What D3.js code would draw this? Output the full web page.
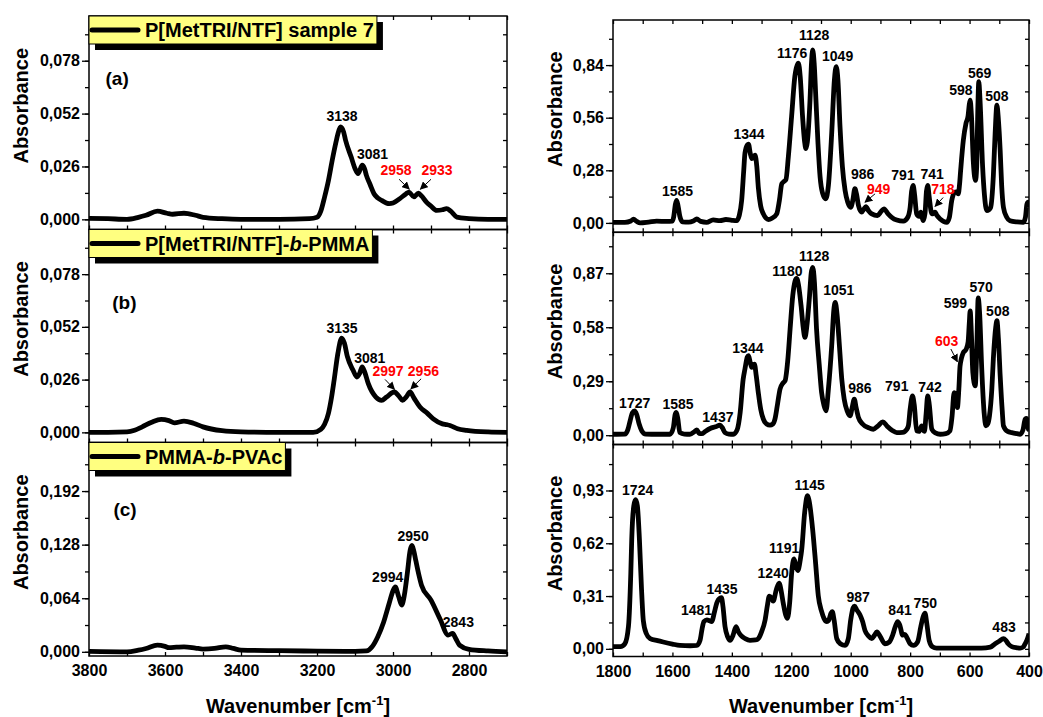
<!DOCTYPE html>
<html>
<head>
<meta charset="utf-8">
<script src="https://cdn.jsdelivr.net/npm/d3@7"></script>
<style>
  body { margin: 0; background: #fff; }
  svg { display: block; font-family: "Liberation Sans", Arial, sans-serif; font-weight: bold; }
</style>
</head>
<body>
<svg width="1043" height="717"></svg>
<script>
/*
    FTIR spectra of the three polymers, high (left) and low (right) wavenumber ranges.
*/

// Spectra: [wavenumber, absorbance]
let specA = [[3800,0.0005],[3750,0.0003],[3700,0],[3670,0.001],[3650,0.002],[3620,0.004],[3595,0.003],[3580,0.0025],[3550,0.003],[3520,0.002],[3500,0.001],[3450,0.0003],[3400,0],[3300,0],[3220,0.0003],[3200,0.001],[3190,0.004],[3180,0.011],[3170,0.019],[3160,0.029],[3150,0.038],[3145,0.042],[3138,0.0454],[3130,0.043],[3125,0.039],[3110,0.0306],[3100,0.025],[3092,0.0225],[3081,0.0266],[3075,0.025],[3070,0.0216],[3060,0.017],[3050,0.0126],[3040,0.0105],[3030,0.0093],[3010,0.0077],[3000,0.008],[2982,0.0102],[2966,0.0125],[2958,0.0134],[2945,0.011],[2933,0.0129],[2925,0.0115],[2912,0.0085],[2900,0.0065],[2885,0.0044],[2870,0.0047],[2859,0.0053],[2848,0.004],[2832,0.0011],[2800,0.0004],[2750,0],[2700,0]];

let specB = [[3800,0],[3750,0],[3700,0.0002],[3680,0.001],[3660,0.0027],[3635,0.005],[3610,0.0064],[3590,0.0058],[3575,0.0047],[3550,0.0055],[3525,0.0045],[3500,0.0027],[3450,0.0008],[3400,0.0002],[3300,0],[3210,0],[3190,0.0015],[3180,0.004],[3170,0.0093],[3162,0.017],[3155,0.0257],[3145,0.039],[3135,0.0464],[3128,0.044],[3120,0.0373],[3105,0.0306],[3095,0.0273],[3088,0.029],[3081,0.0323],[3075,0.03],[3065,0.024],[3045,0.0174],[3030,0.0158],[3017,0.0174],[2997,0.0199],[2985,0.018],[2975,0.0158],[2965,0.0175],[2955,0.0199],[2945,0.017],[2929,0.0125],[2910,0.0095],[2894,0.0067],[2870,0.0042],[2859,0.0038],[2850,0.0034],[2830,0.0018],[2806,0.001],[2750,0.0002],[2700,0]];

let specC = [[3800,0.0005],[3700,0],[3670,0.002],[3650,0.004],[3620,0.008],[3600,0.0065],[3590,0.005],[3570,0.0055],[3550,0.006],[3520,0.0045],[3500,0.0033],[3470,0.004],[3440,0.006],[3420,0.004],[3400,0.002],[3300,0.0013],[3200,0.0008],[3100,0.0005],[3070,0.001],[3055,0.006],[3040,0.018],[3025,0.035],[3010,0.058],[3000,0.073],[2994,0.0776],[2985,0.0657],[2977,0.0558],[2970,0.068],[2962,0.095],[2955,0.121],[2950,0.127],[2945,0.12],[2940,0.109],[2932,0.092],[2925,0.0796],[2900,0.0617],[2875,0.038],[2855,0.02],[2843,0.022],[2835,0.016],[2825,0.008],[2800,0.003],[2750,0.001],[2700,0]];

let specD = [[1800,0.003],[1760,0.003],[1740,0.01],[1731,0.02],[1720,0.008],[1709,0],[1680,0.004],[1653,0.009],[1620,0.008],[1600,0.01],[1596,0.03],[1590,0.1],[1586,0.12],[1581,0.09],[1575,0.035],[1566,0.006],[1545,0.004],[1530,0.01],[1518,0.021],[1505,0.008],[1485,0.003],[1463,0.016],[1440,0.012],[1420,0.018],[1400,0.014],[1384,0.012],[1375,0.04],[1367,0.12],[1360,0.28],[1356,0.37],[1348,0.415],[1344,0.419],[1338,0.37],[1333,0.342],[1327,0.352],[1322,0.36],[1316,0.3],[1311,0.19],[1303,0.09],[1294,0.048],[1285,0.025],[1277,0.018],[1265,0.025],[1249,0.048],[1240,0.12],[1232,0.208],[1225,0.22],[1218,0.23],[1210,0.35],[1199,0.565],[1188,0.78],[1180,0.84],[1176,0.85],[1170,0.78],[1162,0.565],[1155,0.43],[1151,0.396],[1146,0.43],[1137,0.654],[1132,0.85],[1128,0.921],[1123,0.85],[1117,0.654],[1110,0.42],[1103,0.244],[1095,0.16],[1084,0.128],[1075,0.2],[1064,0.476],[1055,0.76],[1049,0.832],[1043,0.76],[1036,0.512],[1028,0.3],[1019,0.173],[1010,0.11],[1000,0.083],[993,0.12],[986,0.182],[980,0.15],[974,0.093],[963,0.057],[955,0.075],[949,0.087],[940,0.065],[929,0.048],[910,0.039],[898,0.06],[888,0.075],[875,0.05],[862,0.03],[845,0.015],[823,0.009],[808,0.03],[800,0.083],[795,0.17],[790,0.2],[785,0.15],[778,0.048],[770,0.035],[764,0.057],[760,0.03],[756,0.012],[750,0.05],[745,0.17],[741,0.2],[736,0.14],[727,0.048],[722,0.05],[716,0.057],[710,0.04],[699,0.021],[677,0.003],[668,0.03],[660,0.119],[655,0.15],[649,0.164],[644,0.165],[638,0.155],[634,0.2],[630,0.28],[621,0.44],[612,0.53],[605,0.57],[601,0.63],[598,0.654],[594,0.58],[587,0.315],[580,0.226],[576,0.3],[572,0.62],[569,0.752],[565,0.66],[556,0.297],[550,0.15],[542,0.066],[535,0.07],[529,0.083],[520,0.25],[514,0.476],[508,0.627],[503,0.55],[497,0.386],[492,0.2],[486,0.083],[475,0.03],[464,0.012],[440,0.005],[419,0.003],[412,0.03],[407,0.1],[403,0.11],[400,0.083]];

let specE = [[1800,0.005],[1760,0.006],[1750,0.03],[1742,0.08],[1735,0.12],[1727,0.131],[1720,0.11],[1712,0.06],[1703,0.023],[1690,0.006],[1650,0.005],[1608,0.005],[1597,0.04],[1591,0.11],[1587,0.122],[1582,0.09],[1575,0.014],[1560,0.006],[1541,0.005],[1525,0.02],[1518,0.028],[1510,0.01],[1501,0.008],[1490,0.02],[1473,0.036],[1455,0.045],[1440,0.054],[1432,0.04],[1423,0.014],[1410,0.006],[1395,0.005],[1382,0.03],[1372,0.122],[1362,0.3],[1356,0.355],[1348,0.42],[1344,0.427],[1338,0.39],[1333,0.364],[1329,0.375],[1324,0.382],[1318,0.32],[1311,0.229],[1303,0.14],[1294,0.086],[1283,0.06],[1272,0.054],[1262,0.06],[1255,0.086],[1246,0.17],[1238,0.247],[1228,0.28],[1221,0.292],[1212,0.4],[1204,0.57],[1195,0.75],[1187,0.83],[1182,0.843],[1176,0.81],[1167,0.695],[1160,0.58],[1154,0.525],[1148,0.58],[1139,0.74],[1133,0.87],[1128,0.902],[1122,0.82],[1115,0.57],[1106,0.38],[1098,0.229],[1090,0.16],[1083,0.131],[1075,0.25],[1064,0.48],[1057,0.67],[1052,0.714],[1046,0.65],[1038,0.48],[1030,0.3],[1022,0.194],[1012,0.13],[1002,0.104],[995,0.15],[988,0.194],[982,0.15],[974,0.095],[960,0.06],[940,0.04],[924,0.032],[908,0.05],[892,0.072],[878,0.05],[860,0.025],[845,0.014],[825,0.015],[812,0.03],[806,0.05],[800,0.14],[792,0.211],[786,0.16],[778,0.023],[770,0.02],[761,0.05],[756,0.03],[752,0.02],[746,0.12],[741,0.211],[736,0.17],[727,0.032],[715,0.012],[699,0.005],[680,0.008],[666,0.023],[659,0.1],[652,0.229],[647,0.22],[641,0.148],[636,0.25],[632,0.372],[621,0.444],[612,0.46],[605,0.5],[601,0.6],[598,0.668],[594,0.55],[589,0.337],[581,0.265],[576,0.45],[571,0.737],[566,0.65],[559,0.355],[551,0.12],[545,0.05],[539,0.06],[533,0.104],[525,0.25],[520,0.41],[512,0.58],[508,0.615],[503,0.52],[497,0.32],[490,0.13],[486,0.05],[472,0.02],[458,0.014],[440,0.008],[430,0.005],[420,0.03],[413,0.086],[408,0.09],[402,0.032],[400,0.03]];

let specF = [[1800,0.013],[1775,0.013],[1760,0.03],[1748,0.131],[1740,0.45],[1737,0.64],[1730,0.84],[1724,0.876],[1718,0.84],[1711,0.64],[1704,0.35],[1698,0.167],[1688,0.09],[1675,0.06],[1650,0.048],[1631,0.04],[1600,0.028],[1575,0.02],[1540,0.018],[1518,0.02],[1507,0.05],[1500,0.12],[1494,0.16],[1484,0.17],[1475,0.165],[1468,0.16],[1458,0.22],[1451,0.268],[1440,0.298],[1435,0.3],[1430,0.25],[1423,0.131],[1414,0.07],[1406,0.05],[1396,0.08],[1386,0.131],[1378,0.1],[1370,0.08],[1355,0.06],[1339,0.05],[1320,0.052],[1311,0.06],[1300,0.1],[1288,0.17],[1280,0.26],[1274,0.31],[1267,0.3],[1261,0.28],[1250,0.35],[1241,0.386],[1234,0.34],[1227,0.268],[1219,0.2],[1213,0.179],[1205,0.28],[1199,0.44],[1191,0.528],[1185,0.49],[1178,0.46],[1170,0.52],[1165,0.58],[1155,0.8],[1148,0.89],[1145,0.9],[1140,0.87],[1128,0.7],[1118,0.5],[1109,0.31],[1098,0.22],[1090,0.179],[1080,0.16],[1075,0.165],[1066,0.21],[1062,0.218],[1056,0.17],[1047,0.06],[1035,0.03],[1019,0.02],[1008,0.06],[1000,0.17],[992,0.24],[987,0.25],[980,0.23],[969,0.2],[960,0.16],[952,0.108],[940,0.075],[929,0.06],[920,0.08],[912,0.1],[900,0.07],[885,0.03],[870,0.04],[859,0.08],[850,0.13],[842,0.16],[835,0.14],[825,0.08],[818,0.085],[812,0.07],[800,0.03],[789,0.02],[775,0.04],[764,0.131],[756,0.19],[750,0.21],[744,0.15],[736,0.05],[725,0.012],[711,0.004],[650,0.004],[560,0.004],[530,0.01],[514,0.03],[500,0.045],[486,0.06],[478,0.05],[470,0.03],[458,0.013],[440,0.006],[430,0.004],[420,0.01],[413,0.03],[405,0.06],[400,0.09]];

// Peak labels: [text, wavenumber, absorbance, red]
let peaksA = [['3138',3134,0.0507,0],['3081',3054,0.032,0],['2958',2992,0.0244,1],['2933',2884,0.0244,1]];
let peaksB = [['3135',3134,0.0512,0],['3081',3061,0.0364,0],['2997',3013,0.0302,1],['2956',2920,0.0302,1]];
let peaksC = [['2994',3014,0.0892,0],['2950',2947,0.1384,0],['2843',2828,0.0359,0]];
let peaksD = [['1585',1583,0.17,0],['1344',1342,0.472,0],['1176',1197,0.906,0],['1128',1123,1.0,0],['1049',1044,0.888,0],['986',960,0.262,0],['949',906,0.18,1],['791',824,0.254,0],['741',726,0.262,0],['718',690,0.18,1],['598',629,0.707,0],['569',566,0.799,0],['508',508,0.675,0]];
let peaksE = [['1727',1727,0.175,0],['1585',1581,0.168,0],['1437',1447,0.096,0],['1344',1346,0.47,0],['1180',1213,0.884,0],['1128',1123,0.96,0],['1051',1040,0.777,0],['986',969,0.252,0],['791',845,0.265,0],['742',733,0.261,0],['603',677,0.508,1],['599',648,0.712,0],['570',561,0.798,0],['508',505,0.669,0]];
let peaksF = [['1724',1717,0.932,0],['1481',1519,0.228,0],['1435',1433,0.351,0],['1240',1261,0.443,0],['1191',1224,0.59,0],['1145',1138,0.962,0],['987',975,0.306,0],['841',834,0.228,0],['750',749,0.271,0],['483',484,0.126,0]];

// Arrows: [tail wavenumber, tail absorbance, tip wavenumber, tip absorbance]
let arrowsA = [[2984,0.0197,2957,0.0148],[2900,0.0197,2928,0.0148]];
let arrowsB = [[3021,0.0261,2996,0.0212],[2926,0.0264,2953,0.0214]];
let arrowsD = [[918,0.155,952,0.11],[689,0.135,716,0.088]];
let arrowsE = [[663,0.463,641,0.395]];

// Tick values
let ticksHigh = [3800, 3600, 3400, 3200, 3000, 2800];
let ticksLow = [1800, 1600, 1400, 1200, 1000, 800, 600, 400];
let yTicksA = [0, 0.026, 0.052, 0.078];
let yTicksC = [0, 0.064, 0.128, 0.192];
let yTicksD = [0, 0.28, 0.56, 0.84];
let yTicksE = [0, 0.29, 0.58, 0.87];
let yTicksF = [0, 0.31, 0.62, 0.93];

// Legend texts: [text, italic]
let legendA = [['P[MetTRI/NTF] sample 7', 0]];
let legendB = [['P[MetTRI/NTF]-', 0], ['b', 1], ['-PMMA', 0]];
let legendC = [['PMMA-', 0], ['b', 1], ['-PVAc', 0]];

let svg = d3.select('svg');

let xHigh = d3.scaleLinear().domain([3800, 2700]).range([89, 507]);
let xLow = d3.scaleLinear().domain([1800, 400]).range([613, 1029]);

let panels = [
    {x: xHigh, top: 16, bottom: 229.5, dom: [-0.005, 0.1], yt: yTicksA, dec: 3, data: specA, peaks: peaksA, arrows: arrowsA, legend: legendA, tag: ['(a)', 3726, 0.0694]},
    {x: xHigh, top: 229.5, bottom: 442.5, dom: [-0.005, 0.1], yt: yTicksA, dec: 3, data: specB, peaks: peaksB, arrows: arrowsB, legend: legendB, tag: ['(b)', 3707, 0.0642]},
    {x: xHigh, top: 442.5, bottom: 656, dom: [-0.005, 0.25], yt: yTicksC, dec: 3, data: specC, peaks: peaksC, arrows: [], legend: legendC, tag: ['(c)', 3705, 0.170], xt: ticksHigh},
    {x: xLow, top: 20, bottom: 232.3, dom: [-0.05, 1.08], yt: yTicksD, dec: 2, data: specD, peaks: peaksD, arrows: arrowsD},
    {x: xLow, top: 232.3, bottom: 444.5, dom: [-0.05, 1.09], yt: yTicksE, dec: 2, data: specE, peaks: peaksE, arrows: arrowsE},
    {x: xLow, top: 444.5, bottom: 656.5, dom: [-0.045, 1.2], yt: yTicksF, dec: 2, data: specF, peaks: peaksF, arrows: [], xt: ticksLow}
];

// Arrow head
svg.append('defs').append('marker')
    .attr('id', 'head')
    .attr('viewBox', '0 0 10 10')
    .attr('refX', 9).attr('refY', 5)
    .attr('markerWidth', 8).attr('markerHeight', 8)
    .attr('markerUnits', 'userSpaceOnUse')
    .attr('orient', 'auto')
    .append('path').attr('d', 'M0,0L10,5L0,10Z').attr('fill', '#000');

panels.forEach((p, i) => drawPanel(p, i));

// Axis titles
[xHigh, xLow].forEach(x => {
    let r = x.range();
    let t = svg.append('text')
        .attr('x', (r[0] + r[1]) / 2)
        .attr('y', 713)
        .attr('text-anchor', 'middle')
        .attr('font-size', '20px')
        .text('Wavenumber [cm');
    t.append('tspan').attr('font-size', '13px').attr('dy', -8).text('-1');
    t.append('tspan').attr('dy', 8).text(']');
});

function drawPanel(p, i) {
    let x = p.x;
    let [x0, x1] = x.range();
    let y = d3.scaleLinear().domain(p.dom).range([p.bottom, p.top]);
    let g = svg.append('g');
    let fmt = v => d3.format('.' + p.dec + 'f')(v).replace('.', ',');

    let step = p.yt[1] - p.yt[0];
    let yMinor = d3.range(0, 20).map(k => k * step / 2).filter(v => v <= p.dom[1]);
    let xs = x.domain();
    let xMinor = d3.range(xs[1], xs[0] + 1, 100);

    // clip for the curve
    svg.append('clipPath').attr('id', 'clip' + i)
        .append('rect').attr('x', x0).attr('y', p.top).attr('width', x1 - x0).attr('height', p.bottom - p.top);

    g.append('path')
        .datum(p.data)
        .attr('clip-path', 'url(#clip' + i + ')')
        .attr('fill', 'none')
        .attr('stroke', '#000')
        .attr('stroke-width', 4.8)
        .attr('stroke-linejoin', 'round')
        .attr('d', d3.line().x(d => x(d[0])).y(d => y(d[1])).curve(d3.curveMonotoneX));

    // left axis: outward ticks
    let axes = g.append('g').attr('class', 'axes');
    axes.append('g').attr('transform', 'translate(' + x0 + ',0)')
        .call(d3.axisLeft(y).tickValues(p.yt).tickSize(7).tickSizeOuter(0).tickPadding(2).tickFormat(fmt));
    axes.append('g').attr('transform', 'translate(' + x0 + ',0)')
        .call(d3.axisLeft(y).tickValues(yMinor).tickSize(4).tickSizeOuter(0).tickFormat(''));
    // right axis: inward ticks
    axes.append('g').attr('transform', 'translate(' + x1 + ',0)')
        .call(d3.axisLeft(y).tickValues(yMinor).tickSize(4).tickSizeOuter(0).tickFormat(''));
    // top and bottom: inward ticks
    axes.append('g').attr('transform', 'translate(0,' + p.top + ')')
        .call(d3.axisBottom(x).tickValues(xMinor).tickSize(4).tickSizeOuter(0).tickFormat(''));
    axes.append('g').attr('transform', 'translate(0,' + p.bottom + ')')
        .call(d3.axisTop(x).tickValues(xMinor).tickSize(4).tickSizeOuter(0).tickFormat(''));
    if (p.xt) {
        axes.append('g').attr('transform', 'translate(0,' + p.bottom + ')')
            .call(d3.axisBottom(x).tickValues(p.xt).tickSize(0).tickPadding(9).tickFormat(d3.format('d')));
    }
    axes.selectAll('.domain').remove();
    axes.selectAll('line').attr('stroke-width', 1.3);
    axes.selectAll('text').attr('font-size', '16px').attr('font-family', '"Liberation Sans", Arial, sans-serif').attr('font-weight', 'bold').attr('fill', '#000');

    // frame
    g.append('rect')
        .attr('x', x0).attr('y', p.top)
        .attr('width', x1 - x0).attr('height', p.bottom - p.top)
        .attr('fill', 'none').attr('stroke', '#000').attr('stroke-width', 1.5);

    // y title
    let cx = i < 3 ? 21 : 555;
    let cy = (p.top + p.bottom) / 2 - 17;
    g.append('text')
        .attr('transform', 'translate(' + cx + ',' + cy + ') rotate(-90)')
        .attr('text-anchor', 'middle')
        .attr('dy', '0.35em')
        .attr('font-size', '20px')
        .text('Absorbance');

    // peak labels
    g.selectAll('.peak').data(p.peaks).enter().append('text')
        .attr('x', d => x(d[1]))
        .attr('y', d => y(d[2]))
        .attr('dy', '0.35em')
        .attr('text-anchor', 'middle')
        .attr('font-size', '14px')
        .attr('fill', d => d[3] ? '#ff0000' : '#000')
        .text(d => d[0]);

    g.selectAll('.arrow').data(p.arrows).enter().append('line')
        .attr('x1', d => x(d[0])).attr('y1', d => y(d[1]))
        .attr('x2', d => x(d[2])).attr('y2', d => y(d[3]))
        .attr('stroke', '#000').attr('stroke-width', 1)
        .attr('marker-end', 'url(#head)');

    // panel tag
    if (p.tag) {
        g.append('text')
            .attr('x', x(p.tag[1])).attr('y', y(p.tag[2]))
            .attr('dy', '0.35em')
            .attr('text-anchor', 'middle')
            .attr('font-size', '19px')
            .text(p.tag[0]);
    }

    // legend box
    if (p.legend) {
        let lg = g.append('g').attr('transform', 'translate(' + x0 + ',' + p.top + ')');
        let shadow = lg.append('rect').attr('fill', '#000');
        let box = lg.append('rect').attr('fill', '#ffff80').attr('stroke', '#000').attr('stroke-width', 1);
        lg.append('line').attr('x1', 3).attr('x2', 49).attr('y1', 14).attr('y2', 14)
            .attr('stroke', '#000').attr('stroke-width', 5).attr('stroke-linecap', 'round');
        let t = lg.append('text').attr('x', 56).attr('y', 21).attr('font-size', '20px');
        p.legend.forEach(part => {
            t.append('tspan').attr('font-style', part[1] ? 'italic' : 'normal').text(part[0]);
        });
        let w = 56 + t.node().getComputedTextLength() + 3;
        box.attr('x', 0).attr('y', 0).attr('width', w).attr('height', 28);
        shadow.attr('x', 6).attr('y', 6).attr('width', w).attr('height', 28);
    }
}
</script>
</body>
</html>
